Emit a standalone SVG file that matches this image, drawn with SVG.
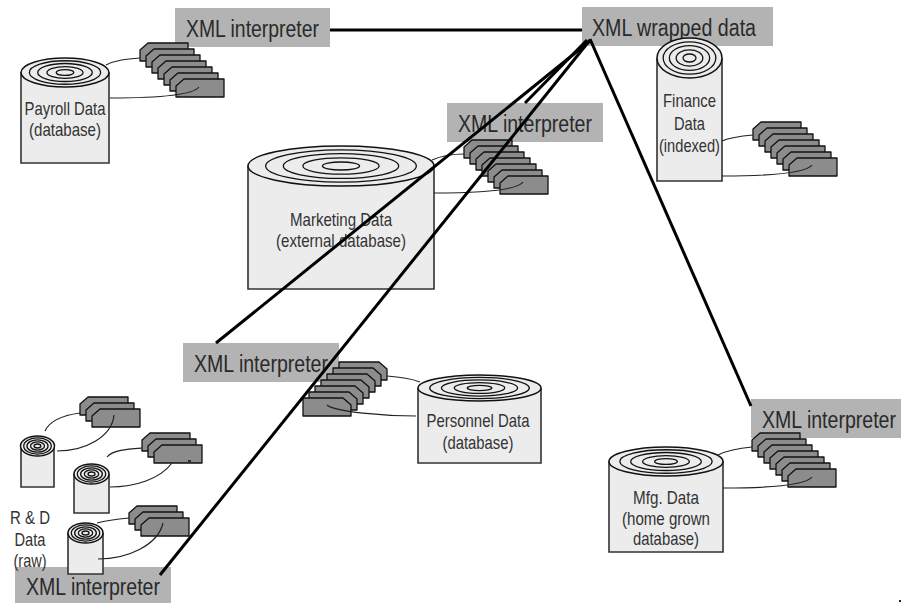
<svg xmlns="http://www.w3.org/2000/svg" xmlns:xlink="http://www.w3.org/1999/xlink" width="901" height="603" viewBox="0 0 901 603">
<style>
text{font-family:"Liberation Sans",Arial,sans-serif;text-anchor:middle;fill:#333;font-size:18.5px}
.hd{font-size:23.5px;fill:#2a2a2a}
.bx{fill:#b3b3b3}
.cy{fill:#ececec;stroke:#333;stroke-width:1.6}
.tp{fill:#ececec;stroke:#111;stroke-width:1.5}
.rg{fill:none;stroke:#111;stroke-width:1.3;vector-effect:non-scaling-stroke}
.cd{fill:#8c8c8c;stroke:#111;stroke-width:1.3;stroke-linejoin:round}
.ln{fill:none;stroke:#222;stroke-width:1.2}
.th{fill:none;stroke:#000;stroke-width:3}
</style>
<defs>
<polygon id="card" class="cd" points="0,7 8,0 48,0 48,18 0,18"/>
<g id="s3"><use href="#card"/><use href="#card" x="6" y="6"/><use href="#card" x="12" y="12"/></g>
<g id="s7"><use href="#s3"/><use href="#s3" x="18" y="18"/><use href="#card" x="36" y="36"/></g>
<g id="rings"><ellipse class="rg" rx=".81" ry=".81"/><ellipse class="rg" rx=".62" ry=".62"/><ellipse class="rg" rx=".41" ry=".41"/><ellipse class="rg" rx=".2" ry=".2"/></g>
<clipPath id="c1"><rect x="640" y="90" width="100" height="17"/></clipPath>
<clipPath id="c2"><rect x="420" y="410" width="120" height="17"/></clipPath>
</defs>

<g id="xml-interpreter-payroll"><rect class="bx" x="175" y="8" width="155" height="39"/><text class="hd" x="252.500" y="37" textLength="133" lengthAdjust="spacingAndGlyphs">XML interpreter</text></g>
<g id="xml-wrapped-data"><rect class="bx" x="582" y="7" width="191" height="39"/><text class="hd" x="674" y="36" textLength="164" lengthAdjust="spacingAndGlyphs">XML wrapped data</text></g>
<g id="xml-interpreter-marketing"><rect class="bx" x="447" y="103" width="156" height="39"/><text class="hd" x="525" y="132" textLength="134" lengthAdjust="spacingAndGlyphs">XML interpreter</text></g>
<g id="xml-interpreter-personnel"><rect class="bx" x="183" y="343" width="156" height="39"/><text class="hd" x="261" y="372" textLength="134" lengthAdjust="spacingAndGlyphs">XML interpreter</text></g>
<g id="xml-interpreter-mfg"><rect class="bx" x="751" y="399" width="150" height="39"/><text class="hd" x="829" y="428" textLength="134" lengthAdjust="spacingAndGlyphs">XML interpreter</text></g>
<g id="xml-interpreter-rd"><rect class="bx" x="15" y="567" width="156" height="36"/><text class="hd" x="93" y="595" textLength="134" lengthAdjust="spacingAndGlyphs">XML interpreter</text></g>

<g id="payroll">
<path class="cy" d="M21 72V163H109V72"/><ellipse class="tp" cx="65" cy="72.500" rx="44" ry="14.500"/><use href="#rings" transform="translate(65 72.500) scale(44 14.500)"/>
<text x="65" y="115" textLength="81" lengthAdjust="spacingAndGlyphs">Payroll Data</text><text x="65" y="136" textLength="72" lengthAdjust="spacingAndGlyphs">(database)</text>
<use href="#s7" x="140" y="43"/>
<path class="ln" d="M106 65C116 60 126 59 140 58M110 98C150 98 192 96 199 87"/>
</g>
<g id="marketing">
<path class="cy" d="M248 166V289H434V166"/><ellipse class="tp" cx="341" cy="166" rx="93" ry="20"/><use href="#rings" transform="translate(341 166) scale(93 20)"/>
<text x="341" y="226" textLength="102" lengthAdjust="spacingAndGlyphs">Marketing Data</text><text x="341" y="247" textLength="130" lengthAdjust="spacingAndGlyphs">(external database)</text>
<use href="#s7" x="464" y="140"/>
<path class="ln" d="M432 160C441 156 452 154 464 154M434 193C470 193 516 191 523 182"/>
</g>
<g id="finance">
<path class="cy" d="M657 58V181H722V58"/><ellipse class="tp" cx="689.500" cy="58" rx="32.500" ry="20"/><use href="#rings" transform="translate(689.500 58) scale(32.500 20)"/>
<text x="689.500" y="107" textLength="53" lengthAdjust="spacingAndGlyphs" clip-path="url(#c1)">Finance</text><text x="689.500" y="130" textLength="31" lengthAdjust="spacingAndGlyphs">Data</text><text x="689.500" y="152" textLength="61" lengthAdjust="spacingAndGlyphs">(indexed)</text>
<use href="#s7" x="753" y="122"/>
<path class="ln" d="M722 141C731 137 741 136 753 135M722 176C760 176 805 174 812 165"/>
</g>
<g id="personnel">
<path class="cy" d="M418 388V463H541V388"/><ellipse class="tp" cx="479.500" cy="388" rx="61.500" ry="13"/><use href="#rings" transform="translate(479.500 388) scale(61.500 13)"/>
<text x="478" y="427" textLength="103" lengthAdjust="spacingAndGlyphs" clip-path="url(#c2)">Personnel Data</text><text x="478" y="449" textLength="71" lengthAdjust="spacingAndGlyphs">(database)</text>
<use href="#s7" transform="translate(387 362) scale(-1 1)"/>
<path class="ln" d="M387 376C402 377 412 379 420 382M416 416C385 416 335 412 327 405"/>
</g>
<g id="mfg">
<path class="cy" d="M609 461V552H723V461"/><ellipse class="tp" cx="666" cy="461.500" rx="57" ry="14.500"/><use href="#rings" transform="translate(666 461.500) scale(57 14.500)"/>
<text x="666" y="504" textLength="66" lengthAdjust="spacingAndGlyphs">Mfg. Data</text><text x="666" y="525" textLength="88" lengthAdjust="spacingAndGlyphs">(home grown</text><text x="666" y="545" textLength="66" lengthAdjust="spacingAndGlyphs">database)</text>
<use href="#s7" x="752" y="433"/>
<path class="ln" d="M718 455C728 450 740 448 752 447M723 488C760 488 805 486 812 477"/>
</g>
<g id="rd-data">
<path class="cy" d="M21 446V487H54V446"/><ellipse class="tp" cx="37.500" cy="446" rx="17" ry="10"/><use href="#rings" transform="translate(37.500 446) scale(17 10)"/>
<use href="#s3" x="80" y="397"/>
<path class="ln" d="M45 431C50 420 65 415 80 413M57 451C85 451 112 437 114 415"/>
<path class="cy" d="M74 474V513H109V474"/><ellipse class="tp" cx="91.500" cy="474" rx="17.500" ry="10"/><use href="#rings" transform="translate(91.500 474) scale(17.500 10)"/>
<use href="#s3" x="142" y="433"/>
<path class="ln" d="M107 457C112 450 128 449 142 448M110 487C135 487 160 479 172 463"/>
<path d="M188 461h3" stroke="#111" stroke-width="1.500"/>
<text x="30" y="524" textLength="40" lengthAdjust="spacingAndGlyphs">R &amp; D</text><text x="30" y="546" textLength="31" lengthAdjust="spacingAndGlyphs">Data</text><text x="30" y="567" textLength="33" lengthAdjust="spacingAndGlyphs">(raw)</text>
<path class="cy" d="M68 533V574H103V533"/><ellipse class="tp" cx="85.500" cy="533" rx="17.500" ry="10"/><use href="#rings" transform="translate(85.500 533) scale(17.500 10)"/>
<use href="#s3" x="129" y="506"/>
<path class="ln" d="M97 523C108 520 118 519 129 518M98 559C128 559 158 545 163 523"/>
</g>

<g id="connectors">
<path class="th" d="M330 30H582"/>
<path class="th" d="M587 40L525 103"/>
<path class="th" d="M590 41L216 343"/>
<path class="th" d="M590 40L160 575"/>
<path class="th" d="M590 39L751 406"/>
</g>
<path d="M899 600h2v2h-2z" fill="#222"/>
</svg>
